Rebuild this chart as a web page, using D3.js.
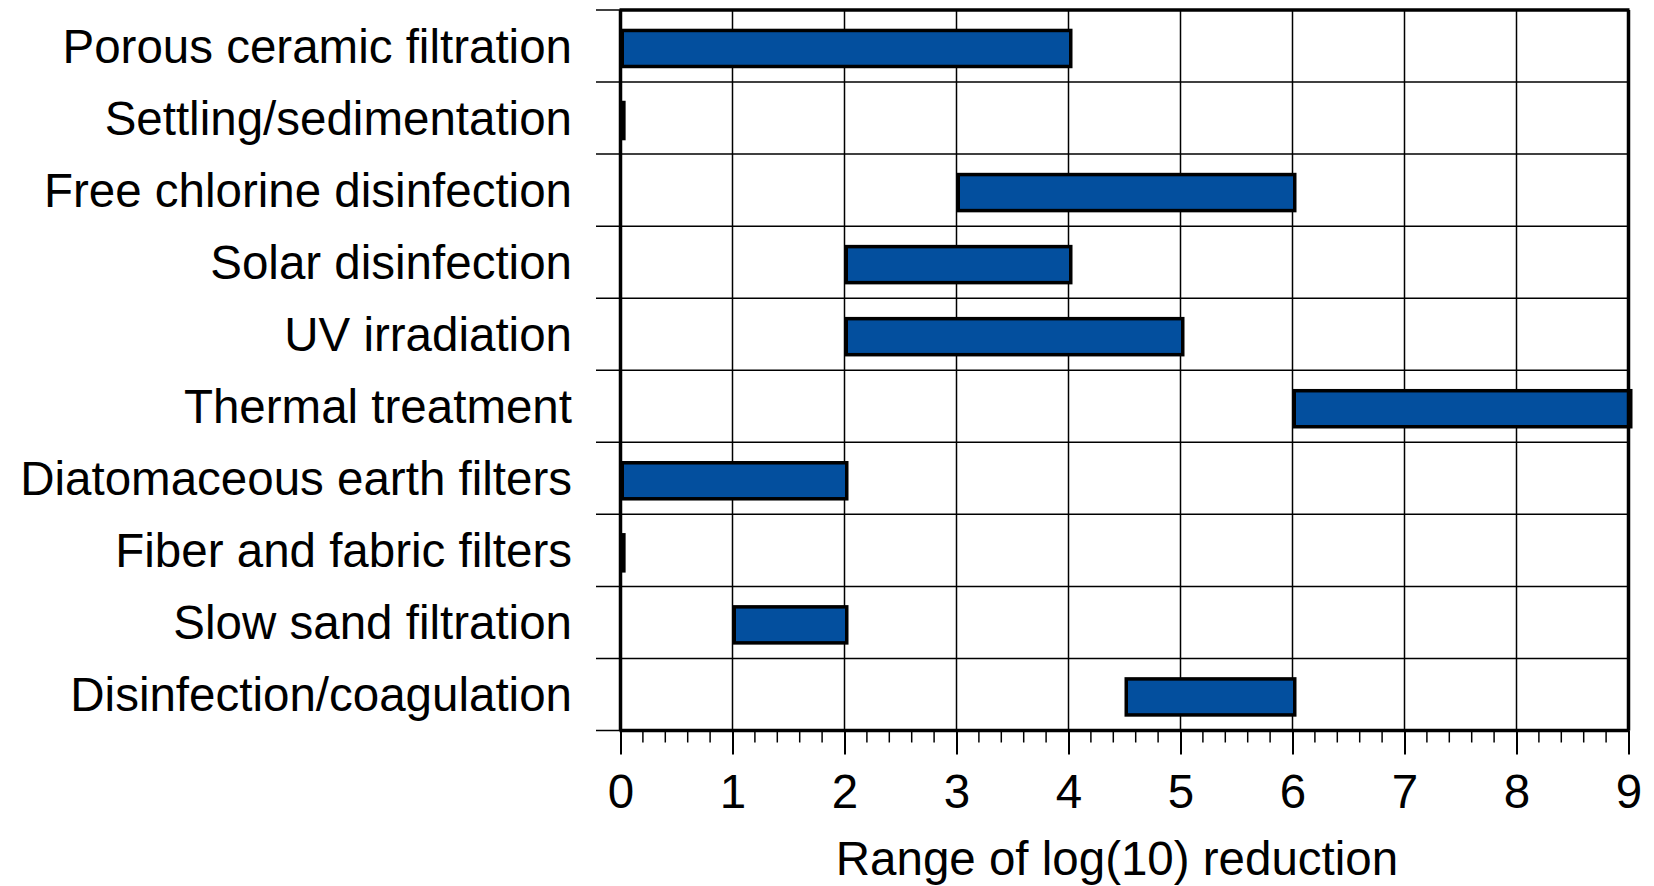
<!DOCTYPE html>
<html><head><meta charset="utf-8">
<script src="https://cdn.jsdelivr.net/npm/d3@7"></script>
<style>body{margin:0;background:#fff}svg{display:block}text{font-family:"Liberation Sans",Arial,sans-serif;fill:#000}</style>
</head><body>
<script>
const categories = ["Porous ceramic filtration","Settling/sedimentation","Free chlorine disinfection","Solar disinfection","UV irradiation","Thermal treatment","Diatomaceous earth filters","Fiber and fabric filters","Slow sand filtration","Disinfection/coagulation"];
const lowValues  = [0, 0, 3, 2, 2, 6, 0, 0, 1, 4.5];
const highValues = [4, 0.01, 6, 4, 5, 9, 2, 0.01, 2, 6];
const xTicks = [0,1,2,3,4,5,6,7,8,9];
const xTitle = "Range of log(10) reduction";

(function(){
const W = 1654, H = 886, FS = 47.5;
const pL = 620.5, pR = 1628.5, pT = 10, pB = 730.5;
const svg = d3.select("body").append("svg").attr("width", W).attr("height", H);
const x = d3.scaleLinear().domain([0, 9]).range([pL, pR]);
const y = d3.scaleBand().domain(categories).range([pT, pB]).padding(0);
const bw = y.bandwidth();

// vertical gridlines
svg.append("g").selectAll("line").data(xTicks.slice(1, -1)).join("line")
  .attr("x1", d => x(d)).attr("x2", d => x(d)).attr("y1", pT).attr("y2", pB)
  .attr("stroke", "#000").attr("stroke-width", 1.5);
// horizontal row lines (with left ticks)
const rowEdges = categories.map(c => y(c)).concat([pB]);
svg.append("g").selectAll("line").data(rowEdges).join("line")
  .attr("x1", 596).attr("x2", pR).attr("y1", d => d).attr("y2", d => d)
  .attr("stroke", "#000").attr("stroke-width", 1.5);

// bars
const data = categories.map((c, i) => ({c, lo: lowValues[i], hi: highValues[i]}));
svg.append("g").selectAll("rect").data(data).join("rect")
  .attr("x", d => x(d.lo) + 1.75).attr("width", d => x(d.hi) - x(d.lo) + 0.5)
  .attr("y", d => y(d.c) + bw * 0.284).attr("height", bw * 0.5)
  .attr("fill", "#034f9e").attr("stroke", "#000").attr("stroke-width", 3.5);

// frame
svg.append("line").attr("x1", pL - 1).attr("x2", pR + 1).attr("y1", pT).attr("y2", pT).attr("stroke", "#000").attr("stroke-width", 3.5);
svg.append("line").attr("x1", pR).attr("x2", pR).attr("y1", pT).attr("y2", pB).attr("stroke", "#000").attr("stroke-width", 3.5);
svg.append("line").attr("x1", pL).attr("x2", pL).attr("y1", pT).attr("y2", pB).attr("stroke", "#000").attr("stroke-width", 3.5);

// x axis
const ax = svg.append("g").attr("transform", `translate(0,${pB})`);
const minor = d3.range(0, 9.0001, 0.2).filter(v => Math.abs(v - Math.round(v)) > 1e-6);
ax.append("g").selectAll("line").data(minor).join("line")
  .attr("x1", d => x(d)).attr("x2", d => x(d)).attr("y1", 0).attr("y2", 12)
  .attr("stroke", "#000").attr("stroke-width", 1.5);
ax.call(d3.axisBottom(x).tickValues(xTicks).tickSize(24).tickPadding(20).tickFormat(d3.format("d")))
  .call(g => g.select(".domain").attr("stroke-width", 3.5).attr("d", `M${pL - 1},0H${pR + 1}`))
  .call(g => g.selectAll(".tick line").attr("stroke-width", 2))
  .call(g => g.selectAll(".tick text").attr("font-size", FS).attr("font-family", "Liberation Sans, Arial, sans-serif").attr("fill", "#000"));

svg.append("text").attr("x", 1117).attr("y", 875).attr("text-anchor", "middle")
  .attr("font-size", FS).text(xTitle);

// category labels
svg.append("g").selectAll("text").data(categories).join("text")
  .attr("x", 572).attr("y", d => y(d) + bw / 2).attr("dy", "0.35em")
  .attr("text-anchor", "end").attr("font-size", FS).text(d => d);
})();
</script>
</body></html>
